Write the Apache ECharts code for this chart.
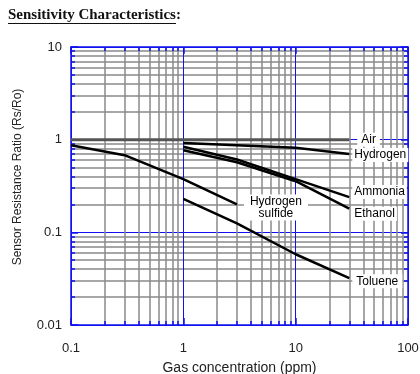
<!DOCTYPE html>
<html>
<head>
<meta charset="utf-8">
<script src="https://cdn.jsdelivr.net/npm/echarts@6/dist/echarts.min.js"></script>
<style>
  html, body { margin: 0; padding: 0; background: #fff; }
  #chart { width: 420px; height: 374px; }
</style>
</head>
<body>
<div id="chart"></div>
<script>
// values (Rs/Ro against ppm)
var airConc = [0.1, 30];
var airRatio = [1, 1];
var hydrogenConc = [1, 10, 30];
var hydrogenRatio = [0.92, 0.82, 0.70];
var ammoniaConc = [1, 3, 10, 30];
var ammoniaRatio = [0.84, 0.61, 0.375, 0.24];
var ethanolConc = [1, 3, 10, 30];
var ethanolRatio = [0.77, 0.57, 0.356, 0.18];
var h2sConc = [0.1, 0.3, 1, 3];
var h2sRatio = [0.87, 0.68, 0.375, 0.2];
var tolueneConc = [1, 3, 10, 30];
var tolueneRatio = [0.23, 0.125, 0.058, 0.032];

var BLUE = '#1010f0';
var GRAY = '#8a8a8a';
var FONT = 'Liberation Sans, Arial, sans-serif';

function pairs(xs, ys) {
    return xs.map(function (x, i) { return [x, ys[i]] })
}

function gasSeries(name, xs, ys, label, color, width) {
    return {
        type: 'line',
        name: name,
        data: pairs(xs, ys),
        symbol: 'none',
        silent: true,
        z: 5,
        lineStyle: { color: color || '#000', width: width || 2.5 },
        endLabel: Object.assign({
            show: true,
            formatter: name,
            color: '#000',
            fontFamily: FONT,
            fontSize: 12,
            backgroundColor: '#fff',
            padding: [1, 2],
            distance: 3
        }, label)
    }
}

function logAxis(pos, min, max, main) {
    return {
        type: 'log',
        logBase: 10,
        position: pos,
        min: min,
        max: max,
        axisLine: { show: true, lineStyle: { color: BLUE, width: 1.5 } },
        axisTick: { show: true, inside: true, length: 7, lineStyle: { color: BLUE, width: 1.5 } },
        minorTick: { show: true, splitNumber: 9, length: 4, lineStyle: { color: BLUE, width: 1.5 } },
        axisLabel: { show: main },
        splitLine: { show: main, lineStyle: { color: BLUE, width: 1 } },
        minorSplitLine: { show: main, lineStyle: { color: GRAY, width: 1.5 } }
    }
}

var xMain = logAxis('bottom', 0.1, 100, true);
xMain.axisLabel = { show: true, margin: 17, fontSize: 13, color: '#222', fontFamily: FONT };
xMain.name = 'Gas concentration (ppm)';
xMain.nameLocation = 'middle';
xMain.nameGap = 36;
xMain.nameTextStyle = { fontSize: 14, color: '#222', fontFamily: FONT };

var yMain = logAxis('left', 0.01, 10, true);
yMain.axisLabel = { show: true, margin: 9, fontSize: 13, color: '#222', fontFamily: FONT };
yMain.name = 'Sensor Resistance Ratio (Rs/Ro)';
yMain.nameLocation = 'middle';
yMain.nameGap = 47;
yMain.nameTextStyle = { fontSize: 12, color: '#222', fontFamily: FONT, padding: [0, 0, 0, 18] };

var chart = echarts.init(document.getElementById('chart'));
chart.setOption({
    animation: false,
    grid: { left: 71, right: 12, top: 47, bottom: 49, containLabel: false, outerBoundsMode: 'none' },
    xAxis: [xMain, logAxis('top', 0.1, 100, false)],
    yAxis: [yMain, logAxis('right', 0.01, 10, false)],
    graphic: [{
        type: 'text',
        left: 8,
        top: 8,
        style: { text: 'Sensitivity Characteristics:', font: 'bold 15px "Liberation Serif", serif', fill: '#111' }
    }, {
        type: 'rect',
        left: 8,
        top: 23,
        shape: { width: 168, height: 1 },
        style: { fill: '#111' }
    }],
    series: [
        gasSeries('Air', airConc, airRatio, { distance: 8, padding: [1, 4] }, '#555', 3),
        gasSeries('Hydrogen', hydrogenConc, hydrogenRatio, { offset: [0, 1] }),
        gasSeries('Ammonia', ammoniaConc, ammoniaRatio, { offset: [0, -5] }),
        gasSeries('Ethanol', ethanolConc, ethanolRatio, { offset: [0, 5] }),
        gasSeries('Hydrogen\nsulfide', h2sConc, h2sRatio, { align: 'center', offset: [36, 3], padding: [1, 6], lineHeight: 12 }),
        gasSeries('Toluene', tolueneConc, tolueneRatio, { offset: [0, 3], padding: [1, 4] })
    ]
});
</script>
</body>
</html>
